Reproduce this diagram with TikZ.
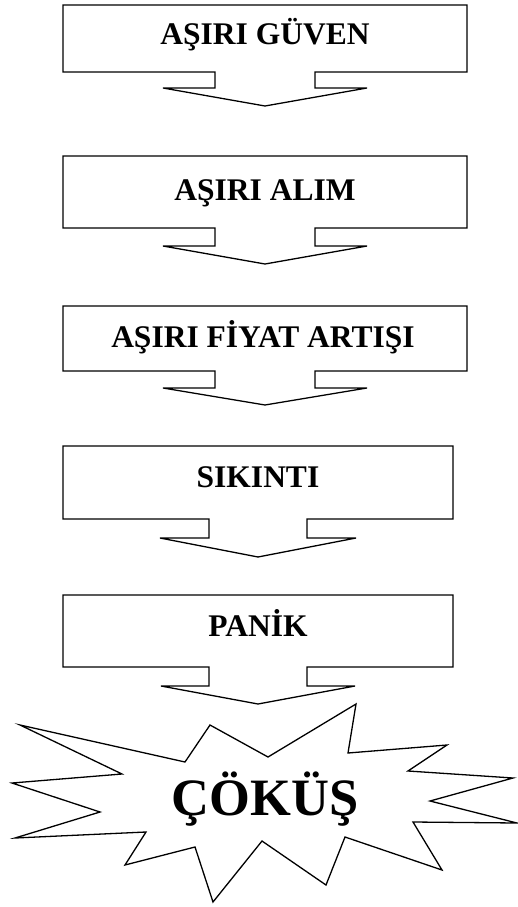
\documentclass[tikz,border=0pt]{standalone}
\usepackage{fontspec}
\setmainfont{Liberation Serif}
\begin{document}
\begin{tikzpicture}[x=1pt,y=-1pt,
  outline/.style={draw=black,line width=1.3pt,line join=miter,fill=white},
  label/.style={font=\fontsize{31.5}{36}\selectfont\bfseries,anchor=base,inner sep=0pt},
  biglabel/.style={font=\fontsize{52.5}{60}\selectfont\bfseries,anchor=base,inner sep=0pt}]
\useasboundingbox (0,0) rectangle (518,907);

% down-arrow callouts: box, stem and head as one outline
\draw[outline] (63,5) -- (467,5) -- (467,72) -- (315,72) -- (315,88) -- (367,88)
  -- (265,106) -- (163,88) -- (215,88) -- (215,72) -- (63,72) -- cycle;
\draw[outline] (63,156) -- (467,156) -- (467,228) -- (315,228) -- (315,246) -- (367,246)
  -- (265,264) -- (163,246) -- (215,246) -- (215,228) -- (63,228) -- cycle;
\draw[outline] (63,306) -- (467,306) -- (467,371) -- (315,371) -- (315,388) -- (367,388)
  -- (265,405) -- (163,388) -- (215,388) -- (215,371) -- (63,371) -- cycle;
\draw[outline] (63,446) -- (453,446) -- (453,519) -- (307,519) -- (307,538) -- (356,538)
  -- (258,557) -- (160,538) -- (209,538) -- (209,519) -- (63,519) -- cycle;
\draw[outline] (63,595) -- (453,595) -- (453,667) -- (307,667) -- (307,686) -- (355,686)
  -- (258,704) -- (161,686) -- (209,686) -- (209,667) -- (63,667) -- cycle;

% explosion burst
\draw[outline] (20,725) -- (185,762) -- (210,725) -- (268,757) -- (356,704)
  -- (348,753) -- (447,745) -- (408,771) -- (513,778) -- (430,801) -- (517,823)
  -- (413,822) -- (442,870) -- (345,837) -- (326,885) -- (262,841) -- (213,902)
  -- (195,847) -- (125,865) -- (146,832) -- (15,838) -- (100,812) -- (12,783)
  -- (122,774) -- cycle;

% labels
\node[label] (guven) at (265,45) {AŞIRI GÜVEN};
\node[label] (alim) at (265,200) {AŞIRI ALIM};
\node[label] (fiyat) at (263,347) {AŞIRI FİYAT ARTIŞI};
\node[label] (sikinti) at (258,487) {SIKINTI};
\node[label] (panik) at (258,636) {PANİK};
\node[biglabel] (cokus) at (265,815) {ÇÖKÜŞ};
\end{tikzpicture}
\end{document}
